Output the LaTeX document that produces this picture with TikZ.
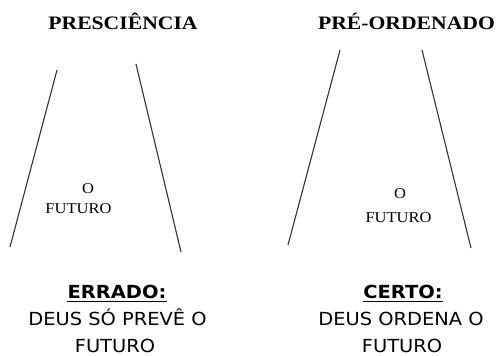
\documentclass[tikz,border=0pt]{standalone}
\usepackage{fontspec}
\usetikzlibrary{calc}
\newfontfamily\serfont{Liberation Serif}
\newfontfamily\sansfont{DejaVu Sans}
\begin{document}
\begin{tikzpicture}[x=1pt,y=-1pt,
  titlestyle/.style={anchor=base,inner sep=0pt,font=\serfont\bfseries\fontsize{19}{21}\selectfont},
  futstyle/.style={anchor=base,inner sep=0pt,font=\serfont\fontsize{15}{17}\selectfont},
  capstyle/.style={anchor=base,inner sep=0pt,font=\sansfont\fontsize{18}{20}\selectfont},
  sideline/.style={draw=black!80,line width=1.1pt}]
\useasboundingbox[fill=white] (0,0) rectangle (498,356);
% titles
\node[titlestyle] (t1) at (123,29) {\scalebox{1.14}[1]{PRESCIÊNCIA}};
\node[titlestyle] (t2) at (406.5,29) {\scalebox{1.14}[1]{PRÉ-ORDENADO}};
% left funnel
\coordinate (l1a) at (57,70);
\coordinate (l1b) at (10,247);
\coordinate (r1a) at (136,64);
\coordinate (r1b) at (181,252);
\draw[sideline] (l1a) -- (l1b);
\draw[sideline] (r1a) -- (r1b);
% right funnel
\coordinate (l2a) at (340,50);
\coordinate (l2b) at (288,245);
\coordinate (r2a) at (422,50);
\coordinate (r2b) at (471,248);
\draw[sideline] (l2a) -- (l2b);
\draw[sideline] (r2a) -- (r2b);
% inner texts
\node[futstyle] (o1) at (88,193) {\scalebox{1.1}[1]{O}};
\node[futstyle] (f1) at (78.5,213) {\scalebox{1.1}[1]{FUTURO}};
\node[futstyle] (o2) at (400,198) {\scalebox{1.1}[1]{O}};
\node[futstyle] (f2) at (398.5,222) {\scalebox{1.1}[1]{FUTURO}};
% captions
\node[capstyle,font=\sansfont\bfseries\fontsize{18}{20}\selectfont] (e1) at (117,298) {\scalebox{1.08}[1]{ERRADO:}};
\draw[line width=0.8pt] ($(e1.base west)+(0,3.5)$) -- ($(e1.base east)+(0,3.5)$);
\node[capstyle] (d1) at (117.5,325) {\scalebox{1.08}[1]{DEUS SÓ PREVÊ O}};
\node[capstyle] (u1) at (115,352) {\scalebox{1.08}[1]{FUTURO}};
\node[capstyle,font=\sansfont\bfseries\fontsize{18}{20}\selectfont] (e2) at (403,298) {\scalebox{1.08}[1]{CERTO:}};
\draw[line width=0.8pt] ($(e2.base west)+(0,3.5)$) -- ($(e2.base east)+(0,3.5)$);
\node[capstyle] (d2) at (401,325) {\scalebox{1.08}[1]{DEUS ORDENA O}};
\node[capstyle] (u2) at (402,352) {\scalebox{1.08}[1]{FUTURO}};
\end{tikzpicture}
\end{document}
